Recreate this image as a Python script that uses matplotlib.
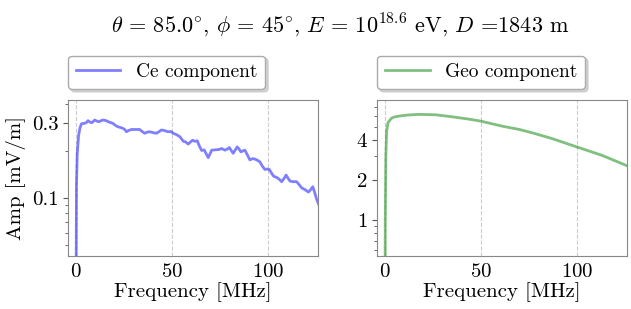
import numpy as np
import matplotlib
matplotlib.use('Agg')
import matplotlib.pyplot as plt
from matplotlib.ticker import FixedLocator, FixedFormatter, NullFormatter

plt.rcParams['font.family'] = 'cmr10'
plt.rcParams['mathtext.fontset'] = 'cm'
plt.rcParams['axes.formatter.use_mathtext'] = True

# Ce component (frequency in MHz, amplitude in mV/m)
ce_freq = [0, 0.4, 0.8, 1.5, 2.2, 3, 4.5, 5.5, 6.4, 7.5, 8.5, 9.9, 11, 12, 13, 14.2, 15.5, 17,
           18.2, 19.3, 20.5, 21.9, 23, 24.5, 25.5, 26.4, 27.5, 29, 31, 33.3, 34.5, 35.9, 37,
           38.5, 40, 42, 43.5, 44.6, 46, 48, 49.5, 50.7, 52.4, 54.2, 56, 57.2, 58.5, 59.7,
           60.8, 62, 63.2, 64.3, 65.5, 66.8, 68, 68.9, 70, 70.7, 72.5, 74.5, 75.9, 77.6, 78.8,
           79.9, 81, 81.9, 83, 84, 85, 85.9, 87, 88, 89.3, 90.6, 91.7, 92.7, 94.2, 95.8, 97,
           98.4, 99.5, 100.7, 102, 103.1, 104.2, 105.4, 106.3, 107.1, 108.3, 109.4, 110.5,
           111.5, 113, 114.9, 116.3, 117.5, 119.2, 121, 122.2, 123.3, 124.3, 125.3, 126.5]
ce_amp = [0.005, 0.12, 0.19, 0.25, 0.28, 0.298, 0.300, 0.303, 0.312, 0.305, 0.303, 0.315, 0.310,
          0.307, 0.311, 0.315, 0.313, 0.307, 0.303, 0.300, 0.292, 0.285, 0.283, 0.279, 0.274,
          0.265, 0.270, 0.274, 0.274, 0.274, 0.266, 0.259, 0.263, 0.265, 0.262, 0.259, 0.266,
          0.272, 0.270, 0.265, 0.266, 0.259, 0.254, 0.246, 0.230, 0.228, 0.221, 0.228, 0.234,
          0.230, 0.232, 0.215, 0.201, 0.203, 0.190, 0.181, 0.193, 0.202, 0.203, 0.204, 0.207,
          0.202, 0.205, 0.210, 0.200, 0.193, 0.203, 0.212, 0.205, 0.197, 0.200, 0.202, 0.188,
          0.175, 0.178, 0.178, 0.175, 0.170, 0.160, 0.152, 0.153, 0.152, 0.143, 0.137, 0.136,
          0.133, 0.130, 0.127, 0.133, 0.140, 0.133, 0.128, 0.127, 0.127, 0.121, 0.116, 0.113,
          0.109, 0.113, 0.118, 0.108, 0.098, 0.090]

# Geo component
geo_freq = [0, 0.3, 0.6, 1.0, 1.7, 3.4, 5, 7.8, 12, 18, 26.7, 35, 44, 50, 61, 70, 78, 87,
            100, 113, 126]
geo_amp = [0.01, 1.0, 3.0, 4.6, 5.35, 5.75, 5.9, 6.0, 6.1, 6.17, 6.12, 5.92, 5.68, 5.49,
           5.04, 4.76, 4.44, 4.07, 3.52, 3.05, 2.55]

title = r'$\theta\,=\,85.0^{\circ}$, $\phi\,=\,45^{\circ}$, $E\,=\,10^{18.6}$ eV, $D$ =1843 m'
fs = 15

fig = plt.figure(figsize=(6.31, 3.09), dpi=100)
ax1 = fig.add_axes([68 / 631, 1 - 256 / 309, 250 / 631, 156 / 309])
ax2 = fig.add_axes([377 / 631, 1 - 256 / 309, 250 / 631, 156 / 309])

ax1.plot(ce_freq, ce_amp, color='b', alpha=0.5, lw=2, label='Ce component')
ax2.plot(geo_freq, geo_amp, color='g', alpha=0.5, lw=2, label='Geo component')

for ax, lim, ticks in [(ax1, (0.0425, 0.423), [0.1, 0.3]), (ax2, (0.54, 7.9), [1, 2, 4])]:
    ax.set_yscale('log')
    ax.set_ylim(lim)
    ax.set_xlim(-4, 126)
    ax.yaxis.set_major_locator(FixedLocator(ticks))
    ax.yaxis.set_major_formatter(FixedFormatter([str(t) for t in ticks]))
    ax.yaxis.set_minor_formatter(NullFormatter())
    ax.set_xticks([0, 50, 100])
    ax.tick_params(axis='x', length=0, pad=5, labelsize=fs)
    ax.tick_params(axis='y', which='major', length=3.5, width=0.8, color='#555555', labelsize=fs)
    ax.tick_params(axis='y', which='minor', length=2, width=0.6, color='#555555')
    ax.grid(True, axis='x', linestyle='--', color='#cccccc', lw=0.8)
    for sp in ax.spines.values():
        sp.set_color('#888888')
    ax.set_xlabel('Frequency [MHz]', fontsize=fs, labelpad=1)
    leg = ax.legend(loc='lower left', bbox_to_anchor=(0, 1.07), borderaxespad=0, fontsize=14,
                    fancybox=True, shadow={'color': '#bbbbbb', 'alpha': 0.6},
                    handlelength=2.3, frameon=True)
    leg.get_frame().set_edgecolor('#aaaaaa')

ax1.set_ylabel('Amp [mV/m]', fontsize=fs, labelpad=4)
fig.text(0.54, 0.92, title, fontsize=16, ha='center', va='center')

plt.savefig('out.png', dpi=100)
